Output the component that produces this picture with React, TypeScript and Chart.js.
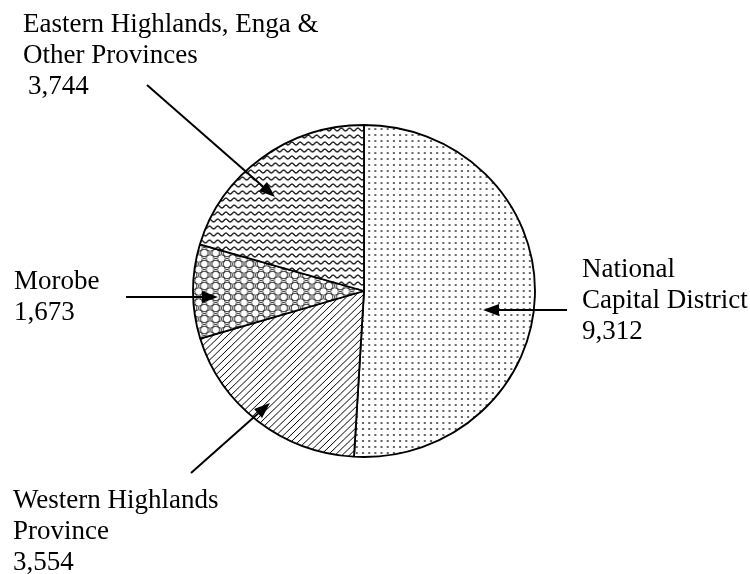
import React, { useEffect, useRef } from "react";
import { Chart, registerables } from "chart.js";

Chart.register(...registerables);

const categories = [
  "National Capital District",
  "Western Highlands Province",
  "Morobe",
  "Eastern Highlands, Enga & Other Provinces",
];
const values = [9312, 3554, 1673, 3744];
const labelLines = [
  ["National", "Capital District"],
  ["Western Highlands", "Province"],
  ["Morobe"],
  ["Eastern Highlands, Enga &", "Other Provinces"],
];

// annotation layout (positions only)
const labelPos = [
  { x: 582, y: 277, valueX: 582 },
  { x: 13, y: 508, valueX: 13 },
  { x: 14, y: 289, valueX: 14 },
  { x: 23, y: 32, valueX: 28 },
];
const arrows = [
  { x1: 567, y1: 310, x2: 483, y2: 310 },
  { x1: 191, y1: 473, x2: 270, y2: 403 },
  { x1: 126, y1: 297, x2: 218, y2: 297 },
  { x1: 147, y1: 85, x2: 275, y2: 197 },
];

const FONT = '27px "Liberation Serif", "Times New Roman", serif';
const LINE_H = 31;
const RY = 166;
const RX = 171;

function makeTile(w: number, h: number, draw: (c: CanvasRenderingContext2D) => void) {
  const cv = document.createElement("canvas");
  cv.width = w;
  cv.height = h;
  const c = cv.getContext("2d")!;
  c.fillStyle = "#fff";
  c.fillRect(0, 0, w, h);
  draw(c);
  return cv;
}

function makePatterns(ctx: CanvasRenderingContext2D) {
  const dots = makeTile(6, 6, (c) => {
    c.fillStyle = "#666";
    c.fillRect(2, 2, 2, 2);
  });
  const diag = makeTile(7, 7, (c) => {
    c.strokeStyle = "#000";
    c.lineWidth = 1;
    c.beginPath();
    c.moveTo(-1, 8);
    c.lineTo(8, -1);
    c.moveTo(-1, 1);
    c.lineTo(1, -1);
    c.moveTo(6, 8);
    c.lineTo(8, 6);
    c.stroke();
  });
  const circles = makeTile(11, 11, (c) => {
    c.strokeStyle = "#222";
    c.lineWidth = 0.9;
    const pts = [
      [5.5, 5.5],
      [0, 0],
      [11, 0],
      [0, 11],
      [11, 11],
    ];
    for (const [x, y] of pts) {
      c.beginPath();
      c.arc(x, y, 3.8, 0, Math.PI * 2);
      c.stroke();
    }
    c.fillStyle = "#444";
    c.fillRect(0, 5, 1, 1);
    c.fillRect(10, 5, 1, 1);
    c.fillRect(5, 0, 1, 1);
    c.fillRect(5, 10, 1, 1);
  });
  const waves = makeTile(8, 7, (c) => {
    c.strokeStyle = "#000";
    c.lineWidth = 1.2;
    c.beginPath();
    for (let i = -1; i <= 9; i++) {
      const x = i;
      const y = 3.5 + 1.5 * Math.sin((x / 8) * Math.PI * 2);
      if (i === -1) c.moveTo(x, y);
      else c.lineTo(x, y);
    }
    c.stroke();
  });
  return [
    ctx.createPattern(dots, "repeat")!,
    ctx.createPattern(diag, "repeat")!,
    ctx.createPattern(circles, "repeat")!,
    ctx.createPattern(waves, "repeat")!,
  ];
}

const ellipsePlugin = {
  id: "ellipse",
  beforeDatasetsDraw(chart: any) {
    const arc = chart.getDatasetMeta(0).data[0];
    if (!arc) return;
    const ctx = chart.ctx;
    ctx.save();
    ctx.translate(arc.x, arc.y);
    ctx.scale(RX / RY, 1);
    ctx.translate(-arc.x, -arc.y);
  },
  afterDatasetsDraw(chart: any) {
    chart.ctx.restore();
  },
};

const labelPlugin = {
  id: "calloutLabels",
  afterDraw(chart: any) {
    const ctx: CanvasRenderingContext2D = chart.ctx;
    ctx.save();
    ctx.fillStyle = "#000";
    ctx.font = FONT;
    ctx.textBaseline = "alphabetic";
    ctx.textAlign = "left";
    labelLines.forEach((lines, i) => {
      const p = labelPos[i];
      lines.forEach((t, j) => ctx.fillText(t, p.x, p.y + j * LINE_H));
      ctx.fillText(
        values[i].toLocaleString("en-US"),
        p.valueX,
        p.y + lines.length * LINE_H
      );
    });
    ctx.strokeStyle = "#000";
    ctx.lineWidth = 2;
    for (const a of arrows) {
      const ang = Math.atan2(a.y2 - a.y1, a.x2 - a.x1);
      const hl = 16;
      const hw = 6;
      const bx = a.x2 - hl * Math.cos(ang);
      const by = a.y2 - hl * Math.sin(ang);
      ctx.beginPath();
      ctx.moveTo(a.x1, a.y1);
      ctx.lineTo(bx, by);
      ctx.stroke();
      ctx.beginPath();
      ctx.moveTo(a.x2, a.y2);
      ctx.lineTo(bx + hw * Math.sin(ang), by - hw * Math.cos(ang));
      ctx.lineTo(bx - hw * Math.sin(ang), by + hw * Math.cos(ang));
      ctx.closePath();
      ctx.fill();
    }
    ctx.restore();
  },
};

export default function App() {
  const ref = useRef<HTMLCanvasElement | null>(null);
  useEffect(() => {
    const canvas = ref.current!;
    const ctx = canvas.getContext("2d")!;
    const patterns = makePatterns(ctx);
    const chart = new Chart(canvas, {
      type: "pie",
      data: {
        labels: categories,
        datasets: [
          {
            data: values,
            backgroundColor: patterns as any,
            borderColor: "#000",
            borderWidth: 1.8,
          },
        ],
      },
      options: {
        animation: false,
        responsive: false,
        maintainAspectRatio: false,
        radius: RY,
        rotation: 0,
        layout: { padding: { left: 0, right: 22, top: 8, bottom: 0 } },
        plugins: {
          legend: { display: false },
          tooltip: { enabled: false },
        },
        events: [],
      } as any,
      plugins: [ellipsePlugin, labelPlugin],
    });
    return () => chart.destroy();
  }, []);
  return (
    <div
      style={{
        position: "absolute",
        left: 0,
        top: 0,
        width: 750,
        height: 574,
        background: "#fff",
      }}
    >
      <canvas ref={ref} width={750} height={574} style={{ display: "block" }} />
    </div>
  );
}
